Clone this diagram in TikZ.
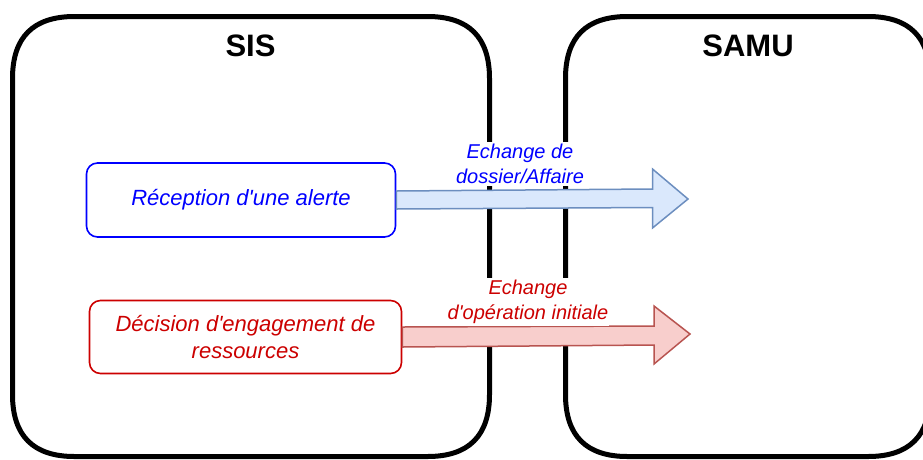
\documentclass[tikz,border=0pt]{standalone}
\usepackage{fontspec}
\setmainfont{Liberation Sans}[Ligatures=TeXOff]
\usetikzlibrary{calc}
\definecolor{bluetxt}{HTML}{0000FF}
\definecolor{redtxt}{HTML}{CC0000}
\definecolor{bfill}{HTML}{DAE8FC}
\definecolor{bstroke}{HTML}{6C8EBF}
\definecolor{rfill}{HTML}{F8CECC}
\definecolor{rstroke}{HTML}{B85450}
\tikzset{
  bigbox/.style={draw=black, line width=5pt, line join=round},
  titletext/.style={font=\fontsize{31}{37}\selectfont\bfseries, inner sep=0pt},
  stepbox/.style={draw, fill=white, line width=1.6pt, rounded corners=11pt, align=center,
    font=\fontsize{22}{26.5}\selectfont\itshape, inner sep=0pt},
  elabel/.style={fill=white, align=center, inner xsep=1pt, inner ysep=2pt,
    font=\fontsize{20}{25}\selectfont\itshape},
  blockA/.style={draw=bstroke, fill=bfill, line width=1.5pt, line join=miter},
  blockB/.style={draw=rstroke, fill=rfill, line width=1.5pt, line join=miter},
}
\begin{document}
\begin{tikzpicture}[x=1pt,y=-1pt]
\useasboundingbox (0,0) rectangle (923,459);
% SIS container
\draw[bigbox] (74.5,16.5) -- (427.5,16.5)
  .. controls (468.83,16.5) and (489.5,37.17) .. (489.5,78.5)
  -- (489.5,394.5)
  .. controls (489.5,435.83) and (468.83,456.5) .. (427.5,456.5)
  -- (74.5,456.5)
  .. controls (33.17,456.5) and (12.5,435.83) .. (12.5,394.5)
  -- (12.5,78.5)
  .. controls (12.5,37.17) and (33.17,16.5) .. cycle;
% SAMU container
\draw[bigbox] (627.5,16.5) -- (868,16.5)
  .. controls (909.33,16.5) and (930,37.17) .. (930,78.5)
  -- (930,394.5)
  .. controls (930,435.83) and (909.33,456.5) .. (868,456.5)
  -- (627.5,456.5)
  .. controls (586.17,456.5) and (565.5,435.83) .. (565.5,394.5)
  -- (565.5,78.5)
  .. controls (565.5,37.17) and (586.17,16.5) .. cycle;
\node[titletext] (sis) at (250.5,46) {SIS};
\node[titletext] (samu) at (748,46) {SAMU};
% step boxes
\node[stepbox, draw=bluetxt, text=bluetxt, minimum width=309pt, minimum height=74pt] (rec) at (241,200) {Réception d'une alerte};
\node[stepbox, draw=redtxt, text=redtxt, minimum width=312pt, minimum height=73pt] (dec) at (245.5,337) {Décision d'engagement de\\ressources};
% block arrows
\coordinate (headA) at (652.5,198);
\coordinate (tipA) at (688,199);
\draw[blockA] ($(rec.east)+(0,-9)$) -- ($(headA)+(0,-9)$) -- ($(headA)+(0,-29)$) -- (tipA)
  -- ($(headA)+(0,30)$) -- ($(headA)+(0,9.5)$) -- ($(rec.east)+(0,9)$) -- cycle;
\coordinate (headB) at (654,335.5);
\coordinate (tipB) at (690,334);
\draw[blockB] ($(dec.east)+(0,-10)$) -- ($(headB)+(0,-9.5)$) -- ($(headB)+(0,-29.5)$) -- (tipB)
  -- ($(headB)+(0,28.5)$) -- ($(headB)+(0,9.5)$) -- ($(dec.east)+(0,10)$) -- cycle;
% edge labels
\node[elabel, text=bluetxt] (lblA) at (520,164) {Echange de\\dossier/Affaire};
\node[elabel, text=redtxt] (lblB) at (528,302) {Echange\\d'opération initiale};
\end{tikzpicture}
\end{document}
